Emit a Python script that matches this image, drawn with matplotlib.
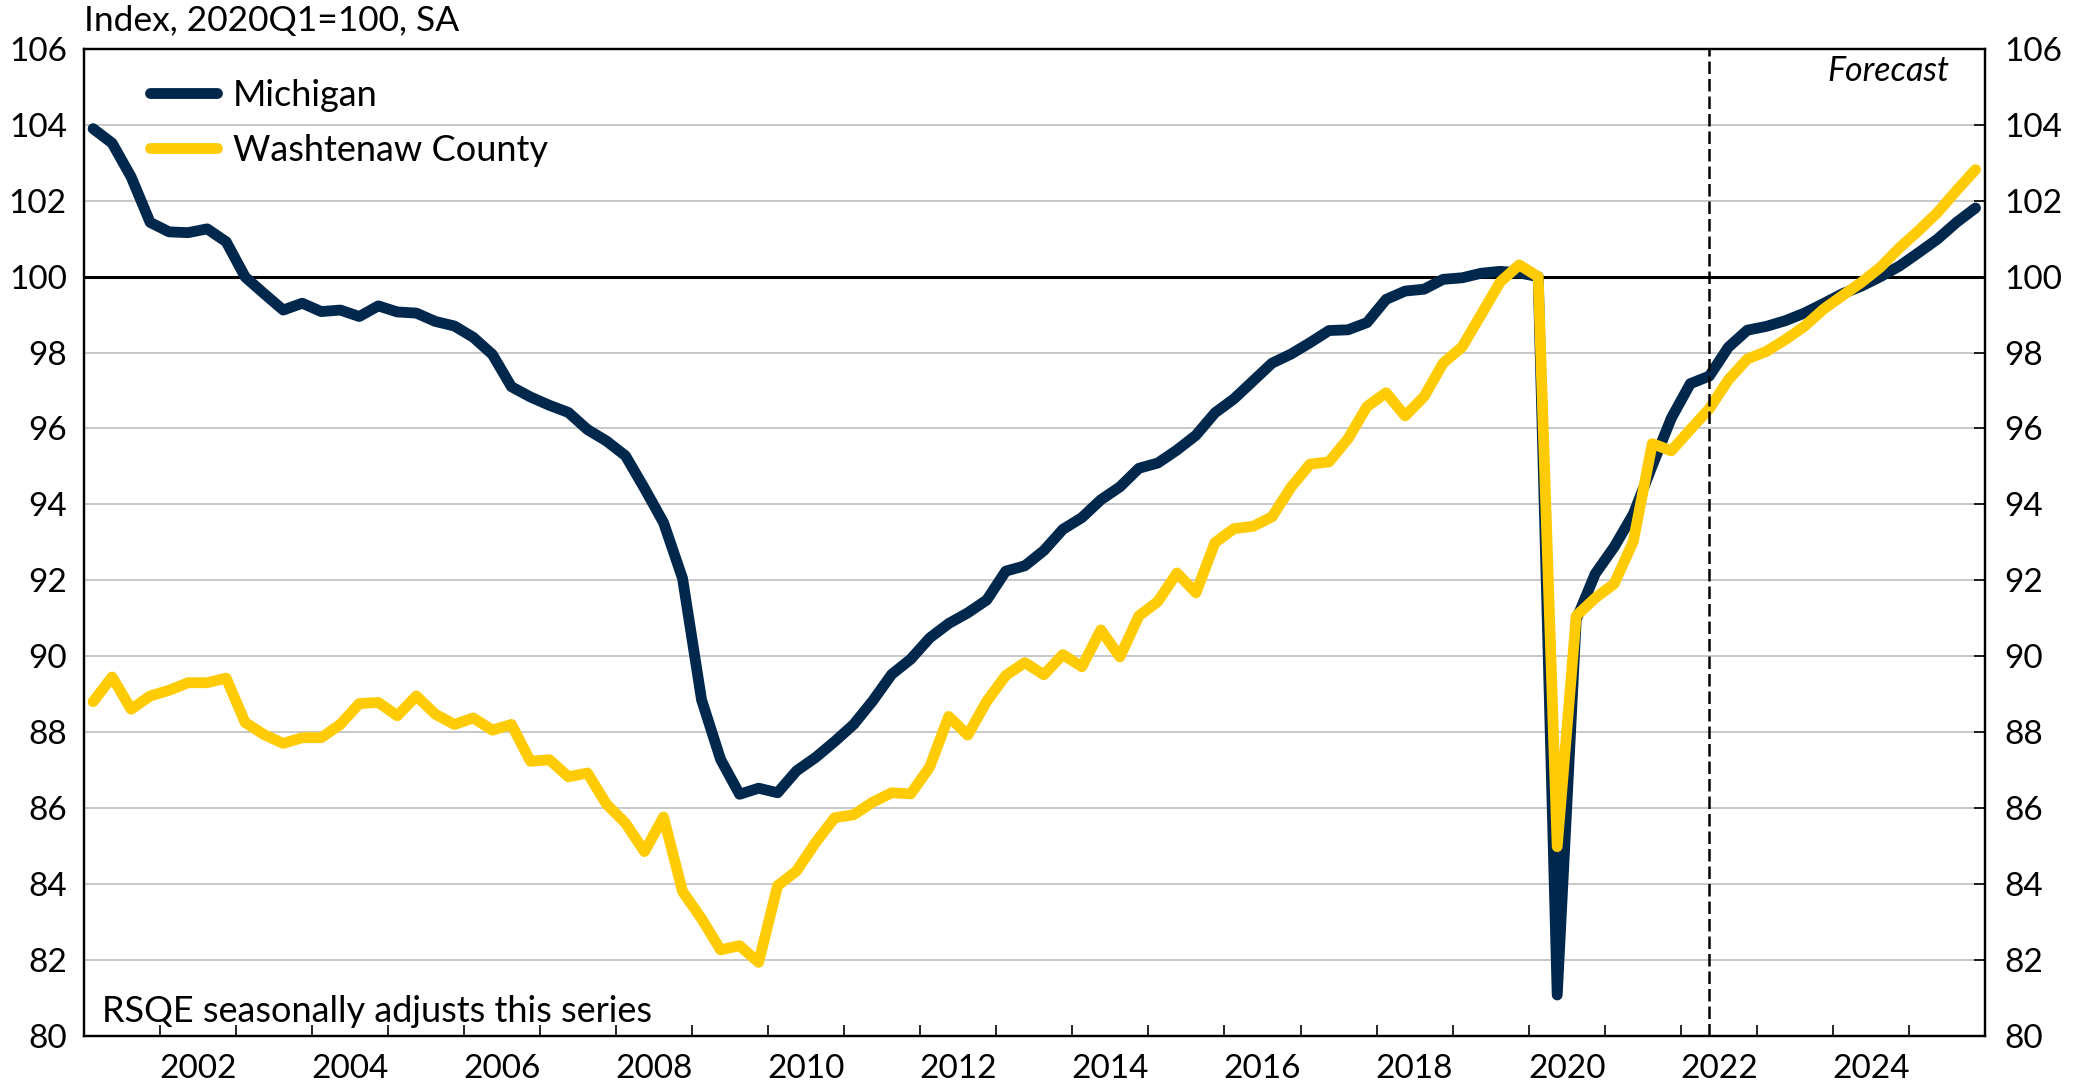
import numpy as np
import pandas as pd
import matplotlib
matplotlib.use("Agg")
import matplotlib.pyplot as plt

plt.rcParams["font.family"] = ["Lato", "DejaVu Sans"]

# quarterly index, 2020Q1 = 100
quarters = pd.period_range("2001Q1", "2025Q4", freq="Q")

michigan = [
    103.90, 103.52, 102.63, 101.43, 101.18, 101.16, 101.26, 100.92,
    99.99, 99.55, 99.12, 99.30, 99.08, 99.12, 98.95, 99.23,
    99.07, 99.04, 98.82, 98.70, 98.40, 97.95, 97.10, 96.83,
    96.61, 96.42, 95.97, 95.67, 95.28, 94.42, 93.52, 92.05,
    88.85, 87.28, 86.36, 86.52, 86.40, 86.98, 87.33, 87.75,
    88.20, 88.82, 89.52, 89.92, 90.48, 90.86, 91.14, 91.48,
    92.24, 92.38, 92.78, 93.34, 93.65, 94.12, 94.46, 94.95,
    95.09, 95.43, 95.82, 96.41, 96.78, 97.25, 97.72, 97.96,
    98.26, 98.58, 98.60, 98.79, 99.40, 99.62, 99.67, 99.93,
    99.97, 100.09, 100.14, 100.10, 100.00, 81.07, 90.96, 92.17,
    92.88, 93.74, 95.02, 96.27, 97.18, 97.38, 98.14, 98.59,
    98.69, 98.84, 99.04, 99.29, 99.55, 99.75, 100.00, 100.28,
    100.63, 100.99, 101.43, 101.81,
]

washtenaw = [
    88.80, 89.45, 88.60, 88.95, 89.10, 89.30, 89.30, 89.42,
    88.25, 87.93, 87.70, 87.85, 87.85, 88.20, 88.75, 88.78,
    88.43, 88.95, 88.47, 88.20, 88.37, 88.05, 88.20, 87.23,
    87.27, 86.82, 86.92, 86.10, 85.60, 84.85, 85.76, 83.80,
    83.08, 82.26, 82.37, 81.93, 83.95, 84.34, 85.09, 85.74,
    85.82, 86.15, 86.40, 86.37, 87.08, 88.41, 87.92, 88.81,
    89.49, 89.83, 89.51, 90.04, 89.72, 90.69, 89.98, 91.06,
    91.44, 92.19, 91.67, 92.99, 93.36, 93.42, 93.67, 94.45,
    95.06, 95.12, 95.73, 96.58, 96.94, 96.33, 96.84, 97.72,
    98.15, 99.00, 99.86, 100.31, 100.00, 84.98, 91.06, 91.53,
    91.91, 93.02, 95.60, 95.41, 95.97, 96.52, 97.28, 97.83,
    98.03, 98.34, 98.69, 99.14, 99.50, 99.85, 100.25, 100.76,
    101.21, 101.69, 102.27, 102.82,
]

forecast_start = pd.Period("2022Q2", freq="Q")
year_labels = list(range(2002, 2025, 2))
y_ticks = list(range(80, 107, 2))

NAVY = "#00274C"
MAIZE = "#FFCB05"
GRID = "#BFBFBF"
FS = 24


def to_decimal(p):
    # place each quarter in the middle of its slot within the year
    return p.year + (p.quarter - 0.5) / 4


x = np.array([to_decimal(p) for p in quarters])

fig = plt.figure(figsize=(20.79, 10.86), dpi=100)
ax = fig.add_axes([0.0402, 0.0464, 0.9146, 0.9085])

ax.set_xlim(2001, 2026)
ax.set_ylim(80, 106)

# grid + reference lines
for v in y_ticks:
    if v == 100:
        continue
    ax.axhline(v, color=GRID, lw=1.2, zorder=1)
ax.axhline(100, color="black", lw=2.2, zorder=1.5)

ax.plot(x, michigan, color=NAVY, lw=7.8, label="Michigan",
        solid_joinstyle="round", solid_capstyle="round", zorder=3)
ax.plot(x, washtenaw, color=MAIZE, lw=7.8, label="Washtenaw County",
        solid_joinstyle="round", solid_capstyle="round", zorder=4)

ax.axvline(to_decimal(forecast_start), color="black", lw=1.8,
           dashes=(5, 2), zorder=5)

# x axis: ticks at year boundaries, labels centred on even years
ax.set_xticks(np.arange(2002, 2026))
ax.set_xticklabels([])
ax.tick_params(axis="x", which="major", direction="in", length=8, width=1.2)
ax.set_xticks([yr + 0.5 for yr in year_labels], minor=True)
ax.set_xticklabels([str(yr) for yr in year_labels], minor=True)
ax.tick_params(axis="x", which="minor", length=0, pad=13, labelsize=FS)

ax.set_yticks(y_ticks)
ax.set_yticklabels([str(v) for v in y_ticks])
ax.tick_params(axis="y", length=0, pad=12, labelsize=FS)

ax2 = ax.twinx()
ax2.set_ylim(80, 106)
ax2.set_yticks(y_ticks)
ax2.set_yticklabels([str(v) for v in y_ticks])
ax2.tick_params(axis="y", direction="in", length=8, width=1.2, pad=14, labelsize=FS)

for a in (ax, ax2):
    for s in a.spines.values():
        s.set_linewidth(1.6)
        s.set_color("black")

leg = ax.legend(loc="upper left", bbox_to_anchor=(0.035, 0.970), frameon=False,
                fontsize=26, handlelength=1.85, handletextpad=0.45,
                labelspacing=0.62, borderaxespad=0, borderpad=0)

ax.text(0.0, 1.012, "Index, 2020Q1=100, SA", transform=ax.transAxes,
        ha="left", va="bottom", fontsize=25.5)
ax.text(0.981, 0.978, "Forecast", transform=ax.transAxes, ha="right",
        va="center", fontsize=24.5, style="italic")
ax.text(0.0095, 0.024, "RSQE seasonally adjusts this series",
        transform=ax.transAxes, ha="left", va="center", fontsize=26)

fig.savefig("out.png", dpi=100)
